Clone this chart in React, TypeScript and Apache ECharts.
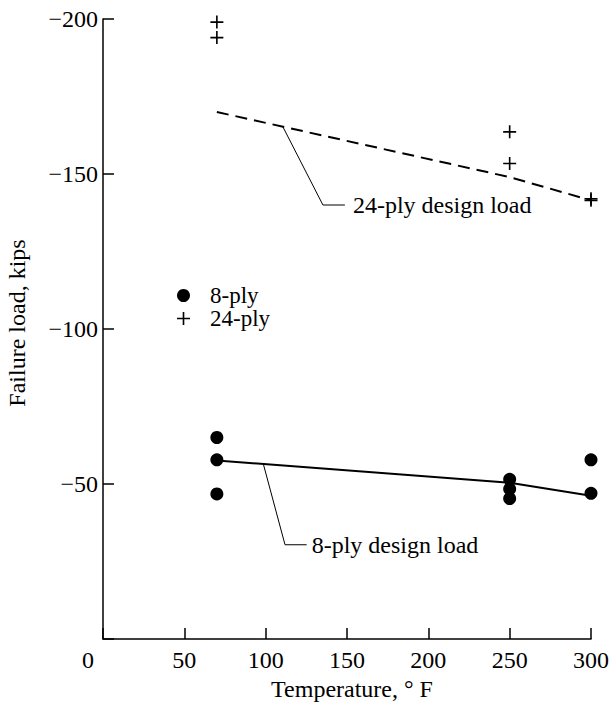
import React, { useEffect, useRef } from "react";
import * as echarts from "echarts";

const FONT = "'Liberation Serif', 'Times New Roman', serif";

// 8-ply test results [temperature °F, failure load kips]
const ply8Temps = [70, 70, 70, 250, 250, 250, 300, 300];
const ply8Loads = [-65, -57.8, -46.8, -51.5, -48.4, -45.3, -57.8, -47];

// 24-ply test results
const ply24Temps = [70, 70, 250, 250, 300, 300];
const ply24Loads = [-199, -194, -163.6, -153.4, -142, -141.5];

// design load lines
const design8Temps = [70, 250, 300];
const design8Loads = [-57.6, -50.4, -46.2];
const design24Temps = [70, 250, 300];
const design24Loads = [-170, -149, -141.5];

// annotation leader lines
const leader24Temps = [110.6, 135.2, 148.7];
const leader24Loads = [-165.2, -140, -140];
const leader8Temps = [98.6, 111.9, 125.2];
const leader8Loads = [-56.4, -30.4, -30.4];

const xTicks = [0, 50, 100, 150, 200, 250, 300];
const yTicks = [-200, -150, -100, -50, 0];

const PLUS = "path://M5.25,0H6.75V5.25H12V6.75H6.75V12H5.25V6.75H0V5.25H5.25Z";

const zip = (a: number[], b: number[]) => a.map((v, i) => [v, b[i]]);

export default function App() {
  const ref = useRef<HTMLDivElement>(null);
  useEffect(() => {
    if (!ref.current) return;
    const chart = echarts.init(ref.current, undefined, { renderer: "svg" });
    const txt = { fontFamily: FONT, fontSize: 24, color: "#000" };
    const legendBase = {
      orient: "vertical",
      left: 172,
      itemWidth: 13,
      itemHeight: 13,
      textStyle: { ...txt, fontSize: 23, lineHeight: 23, padding: [0, 0, 0, 15] },
    };
    chart.setOption({
      animation: false,
      backgroundColor: "#fff",
      grid: { left: 103, top: 19, right: 20, bottom: 76, outerBoundsMode: "none", containLabel: false },
      legend: [
        { ...legendBase, top: 279, data: [{ name: "8-ply", icon: "circle" }] },
        { ...legendBase, top: 302, data: [{ name: "24-ply", icon: PLUS }] },
      ],
      xAxis: {
        type: "value",
        min: xTicks[0],
        max: xTicks[xTicks.length - 1],
        interval: 50,
        name: "Temperature, \u00b0 F",
        nameLocation: "middle",
        nameGap: 35,
        nameTextStyle: { ...txt, padding: [0, 0, 0, 10] },
        axisLine: { show: true, lineStyle: { color: "#000", width: 1.5 } },
        axisTick: { show: true, inside: true, length: 11, lineStyle: { color: "#000", width: 1.5 } },
        splitLine: { show: false },
        axisLabel: {
          ...txt,
          margin: 9,
          formatter: (v: number) => (v === 0 ? "{z|0}" : String(v)),
          rich: { z: { ...txt, padding: [0, 30, 0, 0] } },
        },
      },
      yAxis: {
        type: "value",
        min: yTicks[0],
        max: yTicks[yTicks.length - 1],
        interval: 50,
        inverse: true,
        name: "Failure load, kips",
        nameLocation: "middle",
        nameGap: 74,
        nameTextStyle: { ...txt, padding: [0, 0, 0, 12] },
        axisLine: { show: true, lineStyle: { color: "#000", width: 1.5 } },
        axisTick: { show: true, inside: true, length: 11, lineStyle: { color: "#000", width: 1.5 } },
        splitLine: { show: false },
        axisLabel: {
          ...txt,
          margin: 5,
          formatter: (v: number) => (v === 0 ? "" : "\u2212" + Math.abs(v)),
        },
      },
      series: [
        {
          name: "8-ply design",
          type: "line",
          data: zip(design8Temps, design8Loads),
          symbol: "none",
          lineStyle: { color: "#000", width: 2 },
          z: 2,
        },
        {
          name: "24-ply design",
          type: "line",
          data: zip(design24Temps, design24Loads),
          symbol: "none",
          lineStyle: { color: "#000", width: 2, type: [12, 7] },
          z: 2,
        },
        {
          name: "leader24",
          type: "line",
          data: zip(leader24Temps, leader24Loads),
          symbol: "none",
          lineStyle: { color: "#000", width: 1 },
          endLabel: { show: true, formatter: "24-ply design load", distance: 8, ...txt },
        },
        {
          name: "leader8",
          type: "line",
          data: zip(leader8Temps, leader8Loads),
          symbol: "none",
          lineStyle: { color: "#000", width: 1 },
          endLabel: { show: true, formatter: "8-ply design load", distance: 5, ...txt },
        },
        {
          name: "8-ply",
          type: "scatter",
          data: zip(ply8Temps, ply8Loads),
          symbol: "circle",
          symbolSize: 13,
          itemStyle: { color: "#000", opacity: 1 },
          clip: false,
          z: 3,
        },
        {
          name: "24-ply",
          type: "scatter",
          data: zip(ply24Temps, ply24Loads),
          symbol: PLUS,
          symbolSize: 13,
          itemStyle: { color: "#000", opacity: 1 },
          clip: false,
          z: 3,
        },
      ],
    });
    return () => chart.dispose();
  }, []);
  return (
    <div
      ref={ref}
      style={{ position: "fixed", left: 0, top: 0, width: 611, height: 715, background: "#fff" }}
    />
  );
}
